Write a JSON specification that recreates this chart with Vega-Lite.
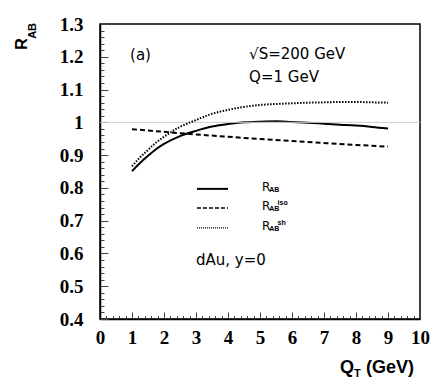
{
  "$schema": "https://vega.github.io/schema/vega-lite/v6.json",
  "width": 320,
  "height": 295,
  "autosize": "none",
  "padding": {"left": 100, "top": 24, "right": 16, "bottom": 63},
  "background": "white",
  "config": {
    "view": {"stroke": "black", "strokeWidth": 1.5},
    "axis": {"domainColor": "black", "domainWidth": 1.5, "tickColor": "#444", "tickWidth": 1, "labelFont": "Liberation Serif", "labelFontWeight": "bold", "labelFontSize": 19, "labelColor": "black", "grid": false, "labelBound": false, "labelFlush": false}
  },
  "datasets": {
    "curves": [
      {"series": "RAB", "x": 1, "y": 0.851}, {"series": "RAB", "x": 1.25, "y": 0.876}, {"series": "RAB", "x": 1.5, "y": 0.898}, {"series": "RAB", "x": 1.75, "y": 0.918}, {"series": "RAB", "x": 2, "y": 0.934}, {"series": "RAB", "x": 2.5, "y": 0.958}, {"series": "RAB", "x": 3, "y": 0.974}, {"series": "RAB", "x": 3.5, "y": 0.987}, {"series": "RAB", "x": 4, "y": 0.995}, {"series": "RAB", "x": 4.5, "y": 1.0}, {"series": "RAB", "x": 5, "y": 1.002}, {"series": "RAB", "x": 5.5, "y": 1.003}, {"series": "RAB", "x": 6, "y": 1.001}, {"series": "RAB", "x": 6.5, "y": 0.999}, {"series": "RAB", "x": 7, "y": 0.996}, {"series": "RAB", "x": 7.5, "y": 0.993}, {"series": "RAB", "x": 8, "y": 0.99}, {"series": "RAB", "x": 8.5, "y": 0.986}, {"series": "RAB", "x": 9, "y": 0.981},
      {"series": "iso", "x": 1, "y": 0.979}, {"series": "iso", "x": 2, "y": 0.971}, {"series": "iso", "x": 3, "y": 0.963}, {"series": "iso", "x": 4, "y": 0.956}, {"series": "iso", "x": 5, "y": 0.949}, {"series": "iso", "x": 6, "y": 0.943}, {"series": "iso", "x": 7, "y": 0.937}, {"series": "iso", "x": 8, "y": 0.931}, {"series": "iso", "x": 9, "y": 0.926},
      {"series": "sh", "x": 1, "y": 0.866}, {"series": "sh", "x": 1.25, "y": 0.893}, {"series": "sh", "x": 1.5, "y": 0.916}, {"series": "sh", "x": 1.75, "y": 0.938}, {"series": "sh", "x": 2, "y": 0.956}, {"series": "sh", "x": 2.5, "y": 0.986}, {"series": "sh", "x": 3, "y": 1.007}, {"series": "sh", "x": 3.5, "y": 1.026}, {"series": "sh", "x": 4, "y": 1.038}, {"series": "sh", "x": 4.5, "y": 1.047}, {"series": "sh", "x": 5, "y": 1.053}, {"series": "sh", "x": 5.5, "y": 1.056}, {"series": "sh", "x": 6, "y": 1.058}, {"series": "sh", "x": 6.5, "y": 1.06}, {"series": "sh", "x": 7, "y": 1.061}, {"series": "sh", "x": 7.5, "y": 1.062}, {"series": "sh", "x": 8, "y": 1.062}, {"series": "sh", "x": 8.5, "y": 1.061}, {"series": "sh", "x": 9, "y": 1.06}
    ],
    "legend": [
      {"series": "RAB", "x": 3.03, "x2": 4.0, "y": 0.797, "sup": ""},
      {"series": "iso", "x": 3.03, "x2": 4.0, "y": 0.739, "sup": "iso"},
      {"series": "sh", "x": 3.03, "x2": 4.0, "y": 0.678, "sup": "sh"}
    ],
    "notes": [
      {"text": "(a)", "x": 0.94, "y": 1.205},
      {"text": "√S=200 GeV", "x": 4.66, "y": 1.208},
      {"text": "Q=1 GeV", "x": 4.66, "y": 1.137},
      {"text": "dAu, y=0", "x": 3.0, "y": 0.58}
    ]
  },
  "layer": [
    {
      "data": {"name": "curves"},
      "transform": [{"filter": "datum.series === 'RAB'"}],
      "mark": {"type": "line", "color": "black", "strokeWidth": 2, "interpolate": "monotone"},
      "encoding": {
        "x": {"field": "x", "type": "quantitative", "title": null, "scale": {"domain": [0, 10], "nice": false, "zero": false},
          "axis": {"values": [0,0.2,0.4,0.6,0.8,1,1.2,1.4,1.6,1.8,2,2.2,2.4,2.6,2.8,3,3.2,3.4,3.6,3.8,4,4.2,4.4,4.6,4.8,5,5.2,5.4,5.6,5.8,6,6.2,6.4,6.6,6.8,7,7.2,7.4,7.6,7.8,8,8.2,8.4,8.6,8.8,9,9.2,9.4,9.6,9.8,10],
            "tickCount": 200, "tickSize": -7, "labelPadding": 16, "labelOverlap": false,
            "tickDash": {"condition": {"test": "abs(datum.value - round(datum.value)) < 0.001", "value": [20, 1]}, "value": [3.5, 20]},
            "labelExpr": "abs(datum.value - round(datum.value)) < 0.001 ? format(datum.value, '.0f') : ''"}},
        "y": {"field": "y", "type": "quantitative", "title": null, "scale": {"domain": [0.4, 1.3], "nice": false, "zero": false},
          "axis": {"values": [0.4,0.42,0.44,0.46,0.48,0.5,0.52,0.54,0.56,0.58,0.6,0.62,0.64,0.66,0.68,0.7,0.72,0.74,0.76,0.78,0.8,0.82,0.84,0.86,0.88,0.9,0.92,0.94,0.96,0.98,1,1.02,1.04,1.06,1.08,1.1,1.12,1.14,1.16,1.18,1.2,1.22,1.24,1.26,1.28,1.3],
            "tickCount": 200, "tickSize": -8, "labelPadding": 25, "labelOverlap": false,
            "tickDash": {"condition": {"test": "abs(datum.value*10 - round(datum.value*10)) < 0.001", "value": [20, 1]}, "value": [4, 20]},
            "labelExpr": "abs(datum.value*10 - round(datum.value*10)) < 0.001 ? format(datum.value, '.1~f') : ''"}}
      }
    },
    {
      "data": {"values": [{"y": 1}]},
      "mark": {"type": "rule", "color": "#cccccc", "strokeWidth": 1},
      "encoding": {"y": {"field": "y", "type": "quantitative", "title": null}}
    },
    {
      "data": {"name": "curves"},
      "transform": [{"filter": "datum.series === 'iso'"}],
      "mark": {"type": "line", "color": "black", "strokeWidth": 2, "strokeDash": [5, 3], "interpolate": "monotone"},
      "encoding": {"x": {"field": "x", "type": "quantitative", "title": null}, "y": {"field": "y", "type": "quantitative", "title": null}}
    },
    {
      "data": {"name": "curves"},
      "transform": [{"filter": "datum.series === 'sh'"}],
      "mark": {"type": "line", "color": "black", "strokeWidth": 2, "strokeDash": [1.5, 1.5], "interpolate": "monotone"},
      "encoding": {"x": {"field": "x", "type": "quantitative", "title": null}, "y": {"field": "y", "type": "quantitative", "title": null}}
    },
    {
      "data": {"name": "legend"},
      "transform": [{"filter": "datum.series === 'RAB'"}],
      "mark": {"type": "rule", "color": "black", "strokeWidth": 2},
      "encoding": {"x": {"field": "x", "type": "quantitative", "title": null}, "x2": {"field": "x2"}, "y": {"field": "y", "type": "quantitative", "title": null}}
    },
    {
      "data": {"name": "legend"},
      "transform": [{"filter": "datum.series === 'iso'"}],
      "mark": {"type": "rule", "color": "black", "strokeWidth": 1.5, "strokeDash": [4, 2]},
      "encoding": {"x": {"field": "x", "type": "quantitative", "title": null}, "x2": {"field": "x2"}, "y": {"field": "y", "type": "quantitative", "title": null}}
    },
    {
      "data": {"name": "legend"},
      "transform": [{"filter": "datum.series === 'sh'"}],
      "mark": {"type": "rule", "color": "black", "strokeWidth": 1.2, "strokeDash": [1, 1]},
      "encoding": {"x": {"field": "x", "type": "quantitative", "title": null}, "x2": {"field": "x2"}, "y": {"field": "y", "type": "quantitative", "title": null}}
    },
    {
      "data": {"name": "legend"},
      "transform": [{"calculate": "'R'", "as": "t"}, {"calculate": "5.06", "as": "lx"}],
      "mark": {"type": "text", "font": "DejaVu Sans", "fontSize": 12, "align": "left", "baseline": "middle", "dy": -1.5, "color": "black"},
      "encoding": {"x": {"field": "lx", "type": "quantitative", "title": null}, "y": {"field": "y", "type": "quantitative", "title": null}, "text": {"field": "t"}}
    },
    {
      "data": {"name": "legend"},
      "transform": [{"calculate": "'AB'", "as": "t"}, {"calculate": "5.29", "as": "lx"}],
      "mark": {"type": "text", "font": "Liberation Sans", "fontWeight": "bold", "fontSize": 7, "align": "left", "baseline": "middle", "dy": 1.5, "color": "black"},
      "encoding": {"x": {"field": "lx", "type": "quantitative", "title": null}, "y": {"field": "y", "type": "quantitative", "title": null}, "text": {"field": "t"}}
    },
    {
      "data": {"name": "legend"},
      "transform": [{"calculate": "5.55", "as": "lx"}],
      "mark": {"type": "text", "font": "Liberation Sans", "fontWeight": "bold", "fontSize": 7, "align": "left", "baseline": "middle", "dy": -5, "color": "black"},
      "encoding": {"x": {"field": "lx", "type": "quantitative", "title": null}, "y": {"field": "y", "type": "quantitative", "title": null}, "text": {"field": "sup"}}
    },
    {
      "data": {"name": "notes"},
      "mark": {"type": "text", "font": "DejaVu Sans", "fontSize": 15, "align": "left", "baseline": "middle", "color": "black"},
      "encoding": {"x": {"field": "x", "type": "quantitative", "title": null}, "y": {"field": "y", "type": "quantitative", "title": null}, "text": {"field": "text"}}
    },
    {
      "data": {"values": [{"text": "R", "x": -2.44, "y": 1.239}]},
      "mark": {"type": "text", "font": "Liberation Sans", "fontWeight": "bold", "fontSize": 16, "angle": 270, "align": "center", "baseline": "middle", "color": "black"},
      "encoding": {"x": {"field": "x", "type": "quantitative", "title": null}, "y": {"field": "y", "type": "quantitative", "title": null}, "text": {"field": "text"}}
    },
    {
      "data": {"values": [{"text": "AB", "x": -2.09, "y": 1.279}]},
      "mark": {"type": "text", "font": "Liberation Sans", "fontWeight": "bold", "fontSize": 11, "angle": 270, "align": "center", "baseline": "middle", "color": "black"},
      "encoding": {"x": {"field": "x", "type": "quantitative", "title": null}, "y": {"field": "y", "type": "quantitative", "title": null}, "text": {"field": "text"}}
    },
    {
      "data": {"values": [{"text": "Q", "x": 7.5, "y": 0.2506}, {"text": "(GeV)", "x": 8.31, "y": 0.2506}]},
      "mark": {"type": "text", "font": "Liberation Sans", "fontWeight": "bold", "fontSize": 18, "align": "left", "baseline": "middle", "color": "black"},
      "encoding": {"x": {"field": "x", "type": "quantitative", "title": null}, "y": {"field": "y", "type": "quantitative", "title": null}, "text": {"field": "text"}}
    },
    {
      "data": {"values": [{"text": "T", "x": 7.94, "y": 0.232}]},
      "mark": {"type": "text", "font": "Liberation Sans", "fontWeight": "bold", "fontSize": 11, "align": "left", "baseline": "middle", "color": "black"},
      "encoding": {"x": {"field": "x", "type": "quantitative", "title": null}, "y": {"field": "y", "type": "quantitative", "title": null}, "text": {"field": "text"}}
    }
  ]
}
